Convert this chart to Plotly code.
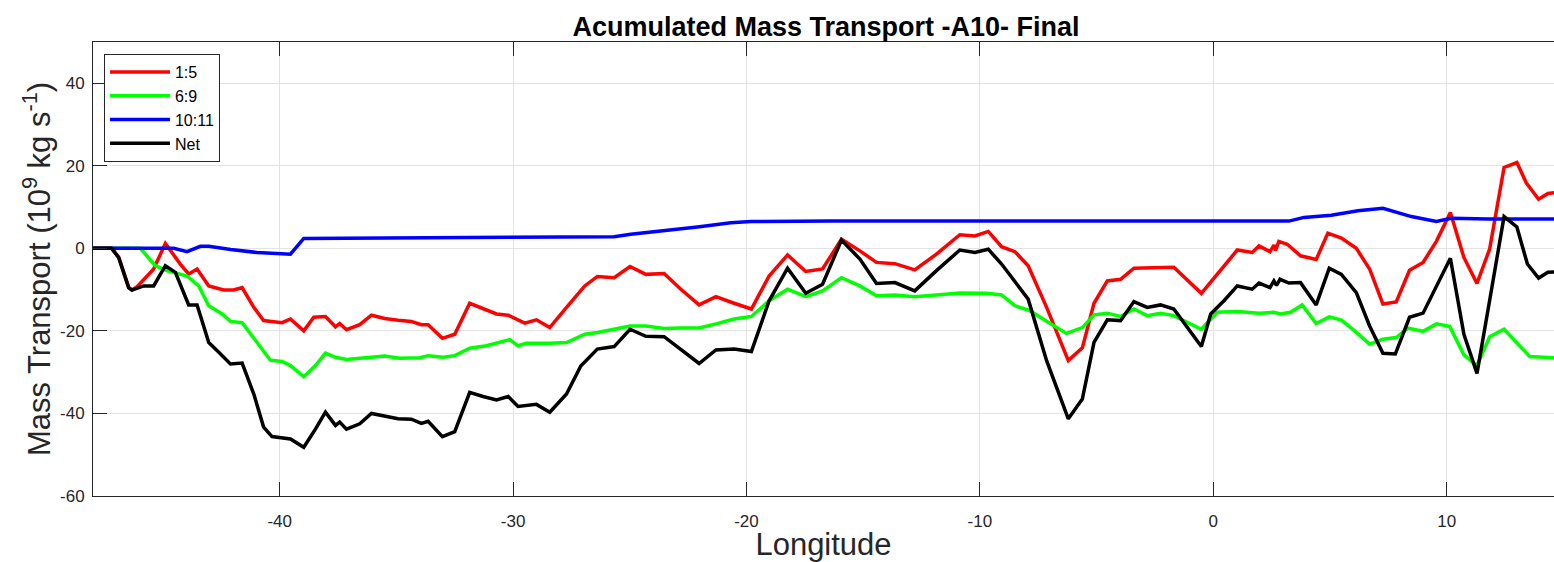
import plotly.graph_objects as go

# Accumulated mass transport along the A10 section (10^9 kg/s) by layer group
lon_15 = [-48, -47.2, -46.9, -46.47, -46.33, -46.11, -45.4, -44.9, -44.26, -43.9, -43.54, -43.04,
          -42.4, -41.97, -41.61, -41.11, -40.69, -39.9, -39.54, -38.97, -38.54, -38.04, -37.61,
          -37.43, -37.14, -36.57, -36.07, -35.5, -34.93, -34.36, -33.93, -33.64, -33.03, -32.5,
          -31.86, -31.29, -30.71, -30.21, -29.5, -29.0, -28.43, -27.71, -26.93, -26.39, -25.67,
          -24.99, -24.31, -23.53, -22.81, -22.03, -21.31, -20.53, -19.79, -19.03, -18.24, -17.46,
          -16.74, -15.93, -15.14, -14.43, -13.64, -12.79, -11.86, -10.86, -10.21, -9.64, -9.07,
          -8.5, -7.93, -7.14, -6.21, -5.61, -5.11, -4.54, -3.97, -3.4, -2.47, -1.69, -0.51, 1.03,
          1.67, 1.96, 2.43, 2.6, 2.67, 2.81, 3.17, 3.74, 4.41, 4.91, 5.49, 6.13, 6.7, 7.27, 7.84,
          8.41, 8.99, 9.56, 10.16, 10.74, 11.3, 11.84, 12.46, 13.01, 13.41, 13.94, 14.34, 15.0]
mt_15 = [0, 0, -2.2, -9.5, -10.1, -9.3, -5.0, 1.2, -3.8, -6.2, -5.0, -9.1,
         -10.1, -10.1, -9.5, -14.3, -17.5, -18.0, -17.1, -20.0, -16.7, -16.5, -19.0,
         -18.2, -19.7, -18.5, -16.2, -17.0, -17.4, -17.7, -18.5, -18.5, -21.8, -20.8,
         -13.3, -14.7, -15.9, -16.2, -18.1, -17.3, -19.2, -14.3, -9.1, -6.8, -7.1,
         -4.4, -6.3, -6.1, -9.9, -13.7, -11.7, -13.3, -14.7, -6.7, -1.6, -5.6,
         -5.0, 2.2, -0.6, -3.4, -3.7, -5.2, -1.4, 3.3, 3.0, 4.1, 0.4,
         -0.8, -4.2, -14.3, -27.2, -24.1, -13.3, -7.9, -7.5, -4.8, -4.6, -4.6, -10.9, -0.4,
         -1.0, 0.6, -0.8, 0.8, -0.5, 1.7, 1.0, -1.8, -2.7, 3.7, 2.5, 0.0, -5.0, -13.5, -13.0,
         -5.3, -3.4, 1.7, 8.7, -2.2, -8.5, -0.2, 19.6, 20.8, 15.9, 11.9, 13.3, 13.7]

lon_69 = [-48, -45.97, -45.33, -44.83, -43.97, -43.47, -43.04, -42.47, -42.11, -41.61, -40.97,
          -40.4, -39.9, -39.54, -38.97, -38.47, -38.04, -37.61, -37.14, -36.43, -35.5, -34.86,
          -34.0, -33.64, -33.0, -32.5, -31.86, -31.14, -30.57, -30.14, -29.79, -29.43, -28.43,
          -27.71, -26.93, -26.39, -25.67, -24.99, -24.31, -23.53, -22.81, -22.03, -21.31, -20.53,
          -19.79, -19.03, -18.24, -17.46, -16.74, -15.93, -15.14, -14.43, -13.64, -12.79, -11.86,
          -10.86, -9.71, -9.07, -8.5, -7.86, -7.07, -6.29, -5.61, -5.11, -4.54, -3.97, -3.4,
          -2.83, -2.26, -1.69, -0.51, 0.17, 1.03, 1.96, 2.6, 2.89, 3.31, 3.81, 4.41, 4.97, 5.49,
          6.06, 6.7, 7.27, 7.84, 8.34, 8.99, 9.56, 10.13, 10.74, 11.3, 11.84, 12.46, 13.01,
          13.56, 15.0]
mt_69 = [0, 0, -4.2, -5.4, -6.7, -9.1, -13.9, -15.9, -17.7, -18.0, -22.8,
         -27.1, -27.4, -28.4, -31.1, -28.4, -25.4, -26.4, -26.9, -26.6, -26.1, -26.6,
         -26.5, -26.0, -26.4, -26.0, -24.2, -23.6, -22.8, -22.1, -23.6, -23.0, -23.0,
         -22.8, -20.8, -20.4, -19.6, -18.8, -18.8, -19.4, -19.3, -19.3, -18.3, -17.1,
         -16.5, -12.7, -9.9, -11.7, -10.3, -7.1, -9.1, -11.5, -11.3, -11.7, -11.3,
         -10.8, -10.9, -11.3, -13.9, -15.1, -17.9, -20.6, -19.2, -16.1, -15.7, -16.5, -14.7,
         -16.3, -15.7, -16.3, -19.6, -15.5, -15.3, -15.7, -15.5, -15.9, -15.5, -13.7, -18.2,
         -16.6, -17.4, -20.0, -23.2, -22.0, -21.6, -19.3, -20.1, -18.3, -18.9, -25.8, -28.4,
         -21.4, -19.6, -23.0, -26.2, -26.6]

lon_1011 = [-48, -44.54, -43.97, -43.4, -43.04, -42.1, -40.97, -39.54, -38.97, -30.0, -27.1,
            -25.67, -24.96, -23.53, -22.1, -20.67, -19.81, -16.39, 3.24, 3.89, 5.06, 6.2, 7.27,
            8.49, 9.56, 10.2, 11.77, 15.0]
mt_1011 = [0, 0, -0.8, 0.5, 0.5, -0.3, -1.0, -1.4, 2.4, 2.6, 2.6,
           2.8, 3.4, 4.2, 5.2, 6.2, 6.5, 6.65, 6.6, 7.5, 8.0, 9.1, 9.7,
           7.7, 6.5, 7.3, 7.1, 7.1]

lon_net = [-48, -47.2, -46.9, -46.47, -46.33, -45.83, -45.4, -44.9, -44.47, -44.19, -43.9,
           -43.54, -43.04, -42.61, -42.11, -41.61, -41.11, -40.69, -40.33, -39.54, -38.97,
           -38.47, -38.04, -37.61, -37.43, -37.14, -36.57, -36.07, -35.5, -34.93, -34.36,
           -33.93, -33.64, -33.03, -32.5, -31.86, -31.29, -30.71, -30.21, -29.79, -29.0,
           -28.43, -27.71, -27.1, -26.39, -25.67, -24.99, -24.31, -23.53, -22.81, -22.03,
           -21.31, -20.53, -19.79, -19.03, -18.24, -17.46, -16.74, -15.93, -15.14, -14.43,
           -13.64, -12.79, -11.86, -10.86, -10.21, -9.64, -9.07, -8.5, -7.93, -7.14, -6.21,
           -5.61, -5.11, -4.54, -3.97, -3.4, -2.83, -2.26, -1.69, -0.51, -0.11, 0.46, 1.03,
           1.67, 1.96, 2.43, 2.6, 2.71, 2.86, 3.24, 3.74, 4.41, 4.97, 5.49, 6.13, 6.7, 7.27,
           7.8, 8.41, 8.99, 9.56, 10.16, 10.74, 11.3, 11.84, 12.46, 13.01, 13.46, 13.94,
           14.34, 15.0]
mt_net = [0, 0, -2.2, -9.5, -10.1, -9.1, -9.1, -4.2, -5.8, -9.9, -13.7,
          -13.7, -22.8, -25.2, -28.0, -27.8, -35.3, -43.3, -45.6, -46.2, -48.2,
          -43.8, -39.7, -42.9, -42.1, -43.8, -42.5, -40.0, -40.7, -41.3, -41.4,
          -42.4, -41.9, -45.6, -44.4, -34.9, -35.9, -36.7, -35.9, -38.3, -37.8,
          -39.7, -35.3, -28.5, -24.4, -23.8, -19.6, -21.3, -21.4, -24.6, -27.9,
          -24.6, -24.4, -25.0, -12.7, -4.8, -10.9, -8.7, 2.0, -2.6, -8.5,
          -8.3, -10.3, -5.4, -0.4, -1.0, -0.2, -3.8, -7.9, -12.3, -27.2, -41.3,
          -36.5, -22.8, -17.3, -17.5, -12.9, -14.3, -13.7, -14.7, -23.8, -15.9, -12.7, -9.1,
          -9.9, -8.4, -9.5, -7.9, -9.0, -7.5, -8.4, -8.3, -13.7, -4.8, -6.3, -10.7, -18.8, -25.4,
          -25.6, -16.7, -15.7, -9.1, -2.4, -20.8, -30.3, -12.7, 7.7, 5.2, -3.8, -7.2,
          -5.8, -5.6]

series = [
    ("1:5", lon_15, mt_15, "#ff0000"),
    ("6:9", lon_69, mt_69, "#00ff00"),
    ("10:11", lon_1011, mt_1011, "#0000ff"),
    ("Net", lon_net, mt_net, "#000000"),
]

x_ticks = [-40, -30, -20, -10, 0, 10]
x_tick_labels = ["-40", "-30", "-20", "-10", "0", "10"]
y_ticks = [-60, -40, -20, 0, 20, 40]
y_tick_labels = ["-60", "-40", "-20", "0", "20", "40"]

FONT = "Liberation Sans, Arial, Helvetica, sans-serif"
AX = "#262626"
GRID = "#e3e3e3"

fig = go.Figure()
for name, xs, ys, col in series:
    fig.add_trace(go.Scatter(x=xs, y=ys, name=name, mode="lines",
                             line=dict(color=col, width=3.5)))

fig.update_layout(
    width=1554, height=562,
    margin=dict(l=93, r=0, t=42, b=66),
    paper_bgcolor="white", plot_bgcolor="white",
    font=dict(family=FONT, color=AX, size=17),
    title=dict(text="<b>Acumulated Mass Transport -A10- Final</b>",
               x=0.5017, xref="paper", xanchor="center",
               y=1 - 27 / 562, yref="container", yanchor="middle",
               font=dict(size=27, color="#000000", family=FONT)),
    showlegend=True,
    legend=dict(x=0.0075, y=0.9736, xanchor="left", yanchor="top",
                bgcolor="white", bordercolor=AX, borderwidth=1,
                font=dict(size=16, color="#000000", family=FONT),
                itemwidth=60, tracegroupgap=0),
    xaxis=dict(range=[-48, 14.6], tickvals=x_ticks, ticktext=x_tick_labels,
               showgrid=True, gridcolor=GRID, gridwidth=1, zeroline=False,
               showline=True, linecolor=AX, linewidth=1, mirror="ticks",
               ticks="inside", ticklen=14, tickcolor=AX, ticklabelstandoff=10,
               title=dict(text="Longitude", font=dict(size=31, color=AX), standoff=9)),
    yaxis=dict(range=[-60, 50], tickvals=y_ticks, ticktext=y_tick_labels,
               showgrid=True, gridcolor=GRID, gridwidth=1, zeroline=False,
               showline=True, linecolor=AX, linewidth=1,
               ticks="inside", ticklen=14, tickcolor=AX, ticklabelstandoff=4,
               title=dict(text="Mass Transport (10<sup>9</sup> kg s<sup>-1</sup>)",
                          font=dict(size=31, color=AX), standoff=0)),
    yaxis2=dict(range=[-60, 50], tickvals=y_ticks, overlaying="y", side="right",
                showgrid=False, zeroline=False, showline=False, showticklabels=False,
                ticks="inside", ticklen=7, tickcolor=AX),
)

fig.write_html("out.html")
